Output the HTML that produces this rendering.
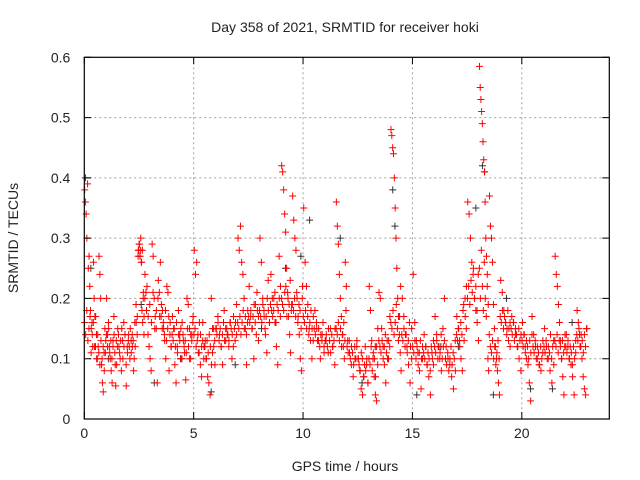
<!DOCTYPE html>
<html><head><meta charset="utf-8"><style>
html,body{margin:0;padding:0;background:#fff;}
svg{display:block;font-family:"Liberation Sans",sans-serif;}
</style></head><body>
<svg id="chart" width="640" height="480" viewBox="0 0 640 480" xmlns="http://www.w3.org/2000/svg">
<rect width="640" height="480" fill="#fff"/>
<text x="345" y="32" text-anchor="middle" font-size="14" fill="#222">Day 358 of 2021, SRMTID for receiver hoki</text>
<text x="345" y="471" text-anchor="middle" font-size="14" fill="#222">GPS time / hours</text>
<text transform="translate(18,238) rotate(-90)" text-anchor="middle" font-size="14" fill="#222">SRMTID / TECUs</text>
<g id="grid"></g>
<g id="black"></g>
<g id="red"></g>
<g id="axes"></g>
</svg>
<script>
const xTicks=[0,5,10,15,20];
const yTicks=[0,0.1,0.2,0.3,0.4,0.5,0.6];
const yTickLabels=["0","0.1","0.2","0.3","0.4","0.5","0.6"];
const segStarts=[0,0.5,1,1.5,2,2.45,2.75,3.5,4,4.5,5,5.5,6,6.5,7,7.5,8,8.5,9,9.5,10,10.5,11,11.5,12,12.5,13,13.5,14,14.5,15,15.5,16,16.5,17,17.5,18.05,18.5,19,19.5,20,20.5,21,21.5,22,22.5];
const segValues=[
[0.38,0.36,0.34,0.30,0.39,0.25,0.27,0.22,0.18,0.15,0.16,0.12,0.26,0.2,0.17],
[0.17,0.14,0.1,0.12,0.27,0.24,0.2,0.09,0.06,0.045,0.11,0.15,0.13],
[0.2,0.14,0.16,0.12,0.1,0.08,0.06,0.13,0.17,0.11,0.055,0.09],
[0.15,0.12,0.1,0.08,0.13,0.16,0.14,0.055,0.11],
[0.14,0.1,0.13,0.12,0.08,0.16,0.19,0.17],
[0.28,0.29,0.27,0.3,0.26,0.28,0.2,0.17],
[0.24,0.21,0.22,0.14,0.12,0.1,0.08,0.29,0.27,0.2,0.17,0.15,0.06,0.23,0.21,0.26],
[0.19,0.18,0.15,0.13,0.1,0.22,0.21,0.08,0.16,0.12],
[0.17,0.15,0.09,0.06,0.12,0.18,0.14,0.1,0.16],
[0.13,0.11,0.065,0.2,0.19,0.15,0.1,0.14,0.17],
[0.28,0.24,0.26,0.14,0.11,0.09,0.07,0.16,0.12],
[0.13,0.1,0.07,0.06,0.04,0.2,0.15,0.12,0.09],
[0.15,0.17,0.14,0.12,0.09,0.18,0.13],
[0.14,0.12,0.16,0.1,0.17,0.13,0.19],
[0.3,0.28,0.32,0.26,0.24,0.2,0.15,0.09,0.18],
[0.22,0.17,0.15,0.1,0.19,0.21,0.13],
[0.3,0.26,0.2,0.17,0.14,0.11,0.23,0.16],
[0.24,0.2,0.18,0.16,0.12,0.09,0.27,0.22],
[0.42,0.41,0.38,0.34,0.31,0.25,0.21,0.17,0.14,0.11,0.19],
[0.37,0.33,0.3,0.28,0.2,0.17,0.14,0.1,0.08,0.22],
[0.35,0.26,0.22,0.19,0.15,0.13,0.1,0.17],
[0.18,0.15,0.13,0.1,0.14,0.12],
[0.13,0.11,0.15,0.12,0.09],
[0.36,0.32,0.29,0.24,0.2,0.17,0.14,0.12,0.1,0.26,0.22],
[0.13,0.11,0.09,0.07,0.1,0.12],
[0.1,0.08,0.05,0.04,0.07,0.12,0.09,0.06],
[0.22,0.18,0.13,0.1,0.07,0.04,0.03,0.15,0.21],
[0.2,0.15,0.12,0.09,0.06,0.13,0.1,0.17],
[0.48,0.47,0.45,0.44,0.4,0.35,0.3,0.25,0.2,0.17,0.14,0.11,0.08],
[0.2,0.17,0.14,0.12,0.09,0.06,0.15],
[0.24,0.16,0.13,0.11,0.08,0.05,0.1],
[0.14,0.12,0.09,0.07,0.04,0.11,0.13],
[0.17,0.14,0.12,0.1,0.08,0.15,0.2],
[0.12,0.1,0.09,0.07,0.05,0.13],
[0.17,0.15,0.13,0.1,0.08,0.19,0.2,0.22],
[0.36,0.34,0.3,0.26,0.24,0.2,0.18,0.16,0.13],
[0.585,0.55,0.53,0.51,0.49,0.46,0.43,0.41,0.36,0.3,0.27,0.22,0.1,0.08],
[0.37,0.32,0.3,0.26,0.19,0.15,0.12,0.1,0.08,0.06,0.04],
[0.23,0.21,0.18,0.16,0.15,0.13,0.12],
[0.17,0.16,0.14,0.12,0.1,0.08],
[0.16,0.14,0.12,0.1,0.09,0.06,0.03,0.17],
[0.14,0.12,0.1,0.09,0.08,0.11],
[0.15,0.12,0.1,0.08,0.06,0.13],
[0.27,0.24,0.22,0.19,0.16,0.13,0.1,0.07,0.04,0.14],
[0.14,0.12,0.1,0.09,0.07,0.04,0.11],
[0.18,0.16,0.14,0.12,0.1,0.07,0.05,0.04,0.15]
];
const segCore=[
[0.16,0.14,0.18,0.13,0.15,0.17,0.11,0.14,0.16,0.12],
[0.12,0.1,0.14,0.11,0.09,0.13,0.1,0.12,0.08,0.11],
[0.14,0.12,0.15,0.11,0.13,0.1,0.12,0.14,0.09,0.13],
[0.12,0.14,0.11,0.13,0.15,0.1,0.12,0.14,0.09,0.12],
[0.13,0.12,0.15,0.11,0.14,0.13,0.1,0.12,0.16,0.14],
[0.27,0.28,0.29,0.27,0.28,0.26,0.18,0.16,0.21,0.14],
[0.2,0.18,0.17,0.19,0.16,0.21,0.15,0.18,0.2,0.17],
[0.17,0.15,0.16,0.14,0.18,0.13,0.15,0.17,0.14,0.12],
[0.14,0.13,0.15,0.12,0.16,0.11,0.14,0.13,0.15,0.1],
[0.14,0.12,0.13,0.11,0.15,0.12,0.1,0.14,0.13,0.16],
[0.14,0.15,0.12,0.13,0.11,0.16,0.14,0.12,0.13,0.1],
[0.12,0.1,0.13,0.11,0.14,0.12,0.09,0.11,0.15,0.13],
[0.15,0.14,0.16,0.13,0.15,0.12,0.14,0.16,0.13,0.15],
[0.15,0.14,0.13,0.16,0.15,0.14,0.12,0.15,0.16,0.14],
[0.16,0.15,0.17,0.14,0.16,0.18,0.15,0.17,0.14,0.16],
[0.17,0.16,0.18,0.15,0.17,0.19,0.16,0.14,0.18,0.17],
[0.18,0.17,0.16,0.19,0.18,0.15,0.17,0.2,0.18,0.16],
[0.19,0.18,0.17,0.2,0.21,0.16,0.19,0.18,0.2,0.17],
[0.2,0.19,0.18,0.21,0.22,0.17,0.2,0.19,0.23,0.18],
[0.19,0.18,0.2,0.17,0.21,0.16,0.19,0.18,0.15,0.2],
[0.17,0.16,0.18,0.15,0.17,0.14,0.16,0.18,0.15,0.13],
[0.15,0.14,0.16,0.13,0.15,0.12,0.14,0.13,0.16,0.11],
[0.13,0.14,0.12,0.15,0.13,0.11,0.14,0.12,0.13,0.15],
[0.15,0.14,0.16,0.13,0.15,0.12,0.14,0.16,0.13,0.18],
[0.12,0.11,0.13,0.1,0.12,0.11,0.09,0.12,0.1,0.13],
[0.1,0.09,0.08,0.11,0.1,0.07,0.09,0.08,0.1,0.06],
[0.1,0.09,0.12,0.08,0.11,0.1,0.07,0.12,0.09,0.13],
[0.12,0.11,0.13,0.1,0.12,0.14,0.11,0.1,0.13,0.12],
[0.16,0.15,0.18,0.14,0.16,0.19,0.15,0.13,0.17,0.22],
[0.14,0.13,0.15,0.12,0.14,0.11,0.13,0.16,0.12,0.1],
[0.12,0.11,0.13,0.1,0.12,0.09,0.11,0.13,0.1,0.12],
[0.11,0.1,0.12,0.09,0.11,0.1,0.08,0.12,0.1,0.09],
[0.12,0.11,0.13,0.1,0.12,0.11,0.14,0.1,0.12,0.13],
[0.1,0.09,0.11,0.08,0.1,0.12,0.09,0.11,0.1,0.08],
[0.14,0.13,0.15,0.12,0.16,0.14,0.18,0.13,0.17,0.15],
[0.2,0.22,0.19,0.23,0.21,0.25,0.2,0.22,0.18,0.24],
[0.25,0.2,0.28,0.22,0.18,0.26,0.2,0.17,0.24,0.19],
[0.14,0.12,0.11,0.13,0.1,0.12,0.09,0.11,0.13,0.1],
[0.17,0.16,0.18,0.15,0.17,0.16,0.14,0.18,0.15,0.16],
[0.15,0.14,0.16,0.13,0.15,0.14,0.12,0.15,0.13,0.14],
[0.13,0.12,0.14,0.11,0.13,0.12,0.1,0.13,0.11,0.14],
[0.12,0.11,0.13,0.1,0.12,0.11,0.09,0.12,0.1,0.13],
[0.12,0.11,0.13,0.1,0.12,0.11,0.14,0.1,0.12,0.09],
[0.13,0.12,0.14,0.11,0.13,0.12,0.1,0.13,0.11,0.12],
[0.12,0.11,0.13,0.1,0.12,0.11,0.09,0.12,0.1,0.13],
[0.14,0.13,0.15,0.12,0.14,0.13,0.11,0.14,0.12,0.15]
];
const blackTimes=[0.05,0.3,1.1,2.6,3.2,4.4,5.8,6.9,8.1,9.2,9.9,10.3,11.7,12.7,13.3,14.1,14.2,15.2,16.3,17.1,17.9,18.2,18.3,18.7,19.3,20.4,21.4,22.3];
const blackValues=[0.4,0.25,0.1,0.19,0.06,0.1,0.045,0.09,0.15,0.25,0.27,0.33,0.3,0.06,0.12,0.38,0.32,0.04,0.12,0.12,0.35,0.42,0.41,0.04,0.2,0.05,0.05,0.16];

const NS='http://www.w3.org/2000/svg';
const L=84.3,R=609.3,T=57.3,B=419;
const xs=t=>L+(t/24)*(R-L);
const ys=v=>B-(v/0.6)*(B-T);
function mk(tag,attrs,parent){const e=document.createElementNS(NS,tag);for(const k in attrs)e.setAttribute(k,attrs[k]);parent.appendChild(e);return e;}
const grid=document.getElementById('grid'),axes=document.getElementById('axes');
xTicks.forEach(t=>{
  if(t>0){const g=mk('line',{x1:xs(t),x2:xs(t),y1:T,y2:B,stroke:'#a0a0a0','stroke-dasharray':'2,3'},grid);
  
  }
  const a=mk('path',{d:`M${xs(t)},${B}v-7M${xs(t)},${T}v7`,stroke:'#000'},axes);
  
  
  const lb=mk('text',{x:xs(t),y:B+19,'text-anchor':'middle','font-size':'14',fill:'#222'},axes);
  lb.textContent=String(t);
  
  
});
yTicks.forEach((v,i)=>{
  if(v>0&&v<0.6){const g=mk('line',{x1:L,x2:R,y1:ys(v),y2:ys(v),stroke:'#a0a0a0','stroke-dasharray':'2,3'},grid);
  
  }
  const a=mk('path',{d:`M${L},${ys(v)}h7M${R},${ys(v)}h-7`,stroke:'#000'},axes);
  
  
  const lb=mk('text',{x:L-14,y:ys(v)+5,'text-anchor':'end','font-size':'14',fill:'#222'},axes);
  lb.textContent=yTickLabels[i];
  
  
});
const fr=mk('rect',{x:L,y:T,width:R-L,height:B-T,fill:'none',stroke:'#000','stroke-width':1.2},axes);


function plus(g,t,v,col){
  const x=xs(t),y=ys(v);
  const p=mk('path',{d:`M${x-3.5},${y}h7M${x},${y-3.5}v7`,stroke:col,'stroke-width':1},g);
  
  
}
const bg=document.getElementById('black');
blackTimes.forEach((t,i)=>plus(bg,t,blackValues[i],'#333'));
const rg=document.getElementById('red');
function drawSegs(arr,offset){
  segStarts.forEach((s,si)=>{
    const vals=arr[si];
    const span=(si+1<segStarts.length?segStarts[si+1]:23)-s;
    vals.forEach((v,j)=>plus(rg,s+span*(j+offset)/vals.length,v,'#f00'));
  });
}
drawSegs(segValues,0.5);
drawSegs(segCore,0.25);
</script>
</body></html>
